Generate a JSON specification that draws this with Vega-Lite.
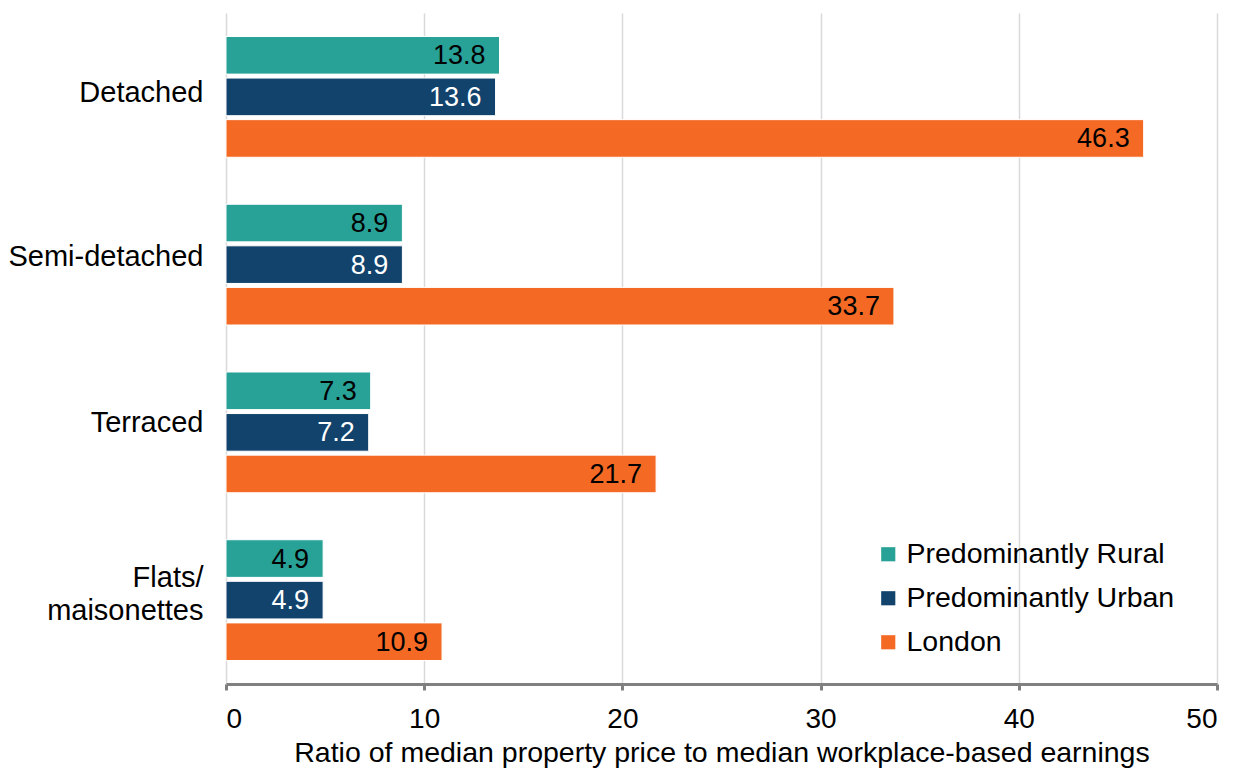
{
  "$schema": "https://vega.github.io/schema/vega-lite/v6.json",
  "width": 991,
  "height": 671,
  "autosize": "none",
  "padding": {"left": 226, "top": 13, "right": 24, "bottom": 85},
  "background": "white",
  "config": {
    "font": "Liberation Sans",
    "view": {"stroke": null}
  },
  "data": {
    "values": [
      {"type": "Detached", "area": "Predominantly Rural", "ratio": 13.8},
      {"type": "Detached", "area": "Predominantly Urban", "ratio": 13.6},
      {"type": "Detached", "area": "London", "ratio": 46.3},
      {"type": "Semi-detached", "area": "Predominantly Rural", "ratio": 8.9},
      {"type": "Semi-detached", "area": "Predominantly Urban", "ratio": 8.9},
      {"type": "Semi-detached", "area": "London", "ratio": 33.7},
      {"type": "Terraced", "area": "Predominantly Rural", "ratio": 7.3},
      {"type": "Terraced", "area": "Predominantly Urban", "ratio": 7.2},
      {"type": "Terraced", "area": "London", "ratio": 21.7},
      {"type": "Flats/ maisonettes", "area": "Predominantly Rural", "ratio": 4.9},
      {"type": "Flats/ maisonettes", "area": "Predominantly Urban", "ratio": 4.9},
      {"type": "Flats/ maisonettes", "area": "London", "ratio": 10.9}
    ]
  },
  "encoding": {
    "y": {
      "field": "type",
      "type": "nominal",
      "sort": ["Detached", "Semi-detached", "Terraced", "Flats/ maisonettes"],
      "scale": {"paddingInner": 0.28, "paddingOuter": 0.14},
      "axis": {
        "title": null,
        "domain": false,
        "ticks": false,
        "grid": false,
        "labelFontSize": 29,
        "labelColor": "#000000",
        "labelPadding": 23,
        "labelLimit": 300,
        "labelLineHeight": 33,
        "labelOffset": {
          "condition": [
            {"test": "datum.value == 'Detached'", "value": -4},
            {"test": "datum.value == 'Semi-detached'", "value": -8},
            {"test": "datum.value == 'Terraced'", "value": -9}
          ],
          "value": -22
        },
        "labelExpr": "datum.value == 'Flats/ maisonettes' ? ['Flats/', 'maisonettes'] : datum.value"
      }
    },
    "yOffset": {
      "field": "area",
      "type": "nominal",
      "sort": ["Predominantly Rural", "Predominantly Urban", "London"],
      "scale": {"paddingInner": 0.095, "paddingOuter": 0}
    },
    "x": {
      "field": "ratio",
      "type": "quantitative",
      "scale": {"domain": [0, 50], "nice": false},
      "axis": {
        "values": [0, 10, 20, 30, 40, 50],
        "title": "Ratio of median property price to median workplace-based earnings",
        "titleFontSize": 28.5,
        "titleFontWeight": "normal",
        "titleColor": "#000000",
        "titlePadding": 5,
        "grid": true,
        "gridColor": "#d9d9d9",
        "gridWidth": 1.5,
        "domainColor": "#808080",
        "domainWidth": 3,
        "tickColor": "#808080",
        "tickWidth": 3,
        "tickSize": 6,
        "labelFontSize": 28,
        "labelColor": "#000000",
        "labelPadding": 15
      }
    }
  },
  "layer": [
    {
      "mark": {"type": "bar", "stroke": "white", "strokeWidth": 1},
      "encoding": {
        "color": {
          "field": "area",
          "type": "nominal",
          "sort": ["Predominantly Rural", "Predominantly Urban", "London"],
          "scale": {
            "domain": ["Predominantly Rural", "Predominantly Urban", "London"],
            "range": ["#28a197", "#12436d", "#f46a25"]
          },
          "legend": {
            "title": null,
            "orient": "none",
            "legendX": 648,
            "legendY": 527,
            "symbolType": "square",
            "symbolSize": 200,
            "symbolStrokeWidth": 0,
            "labelFontSize": 28.5,
            "labelLimit": 400,
            "labelColor": "#000000",
            "labelOffset": 4,
            "rowPadding": 15
          }
        }
      }
    },
    {
      "mark": {"type": "text", "align": "right", "baseline": "middle", "dx": -14, "dy": 1, "fontSize": 27},
      "encoding": {
        "text": {"field": "ratio", "type": "quantitative", "format": ".1f"},
        "color": {
          "condition": {"test": "datum.area == 'Predominantly Urban'", "value": "#ffffff"},
          "value": "#000000"
        }
      }
    }
  ]
}
